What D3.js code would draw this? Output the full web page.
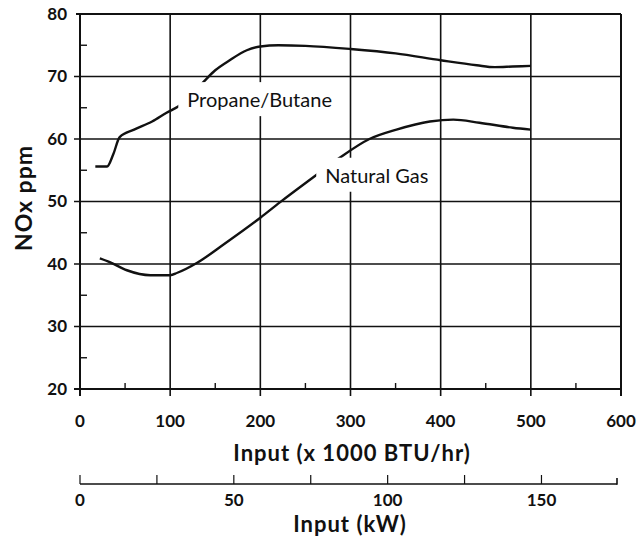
<!DOCTYPE html>
<html>
<head>
<meta charset="utf-8">
<script src="https://cdn.jsdelivr.net/npm/d3@7"></script>
<style>
  body { margin: 0; background: #fff; }
  text { font-family: Lato, "Open Sans", sans-serif; fill: #111; }
</style>
</head>
<body>
<script>
// values (x in 1000 BTU/hr, y in NOx ppm)
var propane = [[17,55.6],[30,55.6],[37,57.6],[44,60.3],[60,61.5],[80,62.8],[96,64.2],[111,65.4],
  [136,69.0],[150,71.0],[166,72.6],[185,74.2],[200,74.8],[220,75.0],[250,74.9],[300,74.4],
  [350,73.7],[400,72.6],[440,71.8],[460,71.5],[480,71.6],[500,71.7]];
var natgas = [[22,40.9],[33,40.3],[52,39.0],[78,38.2],[100,38.2],[108,38.6],[130,40.2],
  [160,43.2],[200,47.4],[222,49.9],[258,53.8],[288,57.0],[321,60.0],[351,61.5],[388,62.8],
  [414,63.1],[443,62.6],[480,61.8],[500,61.5]];
var xTicks = [0,100,200,300,400,500,600];
var xMinor = [50,150,250,350,450,550];
var yTicks = [20,30,40,50,60,70,80];
var yMinor = [25,35,45,55,65,75];
var kwTicks = [0,50,100,150];
var kwMinor = [25,75,125];
var labels = [{name:"Propane/Butane", x:119, y:65.1}, {name:"Natural Gas", x:272, y:53.0}];

var w = 644, h = 544;
var svg = d3.select("body").append("svg").attr("width", w).attr("height", h);

var x = d3.scaleLinear().domain([0,600]).range([80,621]);
var y = d3.scaleLinear().domain([20,80]).range([389,14]);
// 1 kW = 3.412 x 1000 BTU/hr
var kw = d3.scaleLinear().domain([0, 600/3.412]).range([x(0), x(600)]);

var ink = "#111";

// grid
svg.selectAll(".hg").data(yTicks.slice(1,-1)).enter().append("line")
  .attr("x1", 74).attr("x2", x(600)).attr("y1", d => y(d)).attr("y2", d => y(d))
  .attr("stroke", ink).attr("stroke-width", 1.6);
svg.selectAll(".vg").data(xTicks.slice(1,-1)).enter().append("line")
  .attr("x1", d => x(d)).attr("x2", d => x(d)).attr("y1", y(80)).attr("y2", y(20) + 7)
  .attr("stroke", ink).attr("stroke-width", 1.6);

// curves
var line = d3.line().x(d => x(d[0])).y(d => y(d[1])).curve(d3.curveMonotoneX);
[propane, natgas].forEach(function(s){
  svg.append("path").attr("d", line(s)).attr("fill", "none")
    .attr("stroke", ink).attr("stroke-width", 2.4);
});

// labels with white knock-out
var lab = svg.append("g");
labels.forEach(function(l){
  var g = lab.append("g");
  var r = g.append("rect").attr("fill", "#fff");
  var t = g.append("text").attr("x", x(l.x)).attr("y", y(l.y))
    .attr("font-size", 20).text(l.name);
  var b = t.node().getBBox();
  r.attr("x", b.x - 9).attr("y", y(l.y) - 25)
    .attr("width", b.width + 15).attr("height", 34);
});

// frame
svg.append("line").attr("x1", 76).attr("x2", x(600)).attr("y1", y(80)).attr("y2", y(80))
  .attr("stroke", ink).attr("stroke-width", 2);
svg.append("line").attr("x1", 74).attr("x2", x(600)).attr("y1", y(20)).attr("y2", y(20))
  .attr("stroke", ink).attr("stroke-width", 2);
svg.append("line").attr("x1", x(0)).attr("x2", x(0)).attr("y1", y(80)).attr("y2", y(20) + 7)
  .attr("stroke", ink).attr("stroke-width", 2);
svg.append("line").attr("x1", x(600)).attr("x2", x(600)).attr("y1", y(80)).attr("y2", y(20) + 7)
  .attr("stroke", ink).attr("stroke-width", 2);

// minor ticks
svg.selectAll(".ym").data(yMinor).enter().append("line")
  .attr("x1", x(0)).attr("x2", x(0) + 7).attr("y1", d => y(d)).attr("y2", d => y(d))
  .attr("stroke", ink).attr("stroke-width", 1.4);
svg.selectAll(".xm").data(xMinor).enter().append("line")
  .attr("x1", d => x(d)).attr("x2", d => x(d)).attr("y1", y(20)).attr("y2", y(20) - 6)
  .attr("stroke", ink).attr("stroke-width", 1.4);

// tick labels
svg.selectAll(".yl").data(yTicks).enter().append("text")
  .attr("x", 67).attr("y", d => y(d)).attr("dy", "0.35em").attr("text-anchor", "end")
  .attr("font-size", 17).attr("font-weight", "bold").text(d => d);
svg.selectAll(".xl").data(xTicks).enter().append("text")
  .attr("x", d => x(d)).attr("y", 427).attr("text-anchor", "middle")
  .attr("font-size", 17).attr("font-weight", "bold").text(d => d);

// axis titles
svg.append("text").attr("transform", "translate(32,198) rotate(-90)")
  .attr("text-anchor", "middle").attr("font-size", 23).attr("font-weight", "bold")
  .attr("letter-spacing", 1).text("NOx ppm");
svg.append("text").attr("x", 352).attr("y", 461).attr("text-anchor", "middle")
  .attr("font-size", 22).attr("font-weight", "bold").attr("letter-spacing", 1)
  .text("Input (x 1000 BTU/hr)");

// kW axis
var ky = 484;
var kEnd = x(600) - 4;
svg.append("line").attr("x1", kw(0)).attr("x2", kEnd).attr("y1", ky).attr("y2", ky)
  .attr("stroke", ink).attr("stroke-width", 1.6);
svg.selectAll(".kt").data(kwTicks.concat(kwMinor)).enter().append("line")
  .attr("x1", d => kw(d)).attr("x2", d => kw(d)).attr("y1", ky).attr("y2", ky - 9)
  .attr("stroke", ink).attr("stroke-width", 1.2);
svg.append("line").attr("x1", kEnd).attr("x2", kEnd).attr("y1", ky + 0.8).attr("y2", ky - 6)
  .attr("stroke", ink).attr("stroke-width", 1.6);
svg.selectAll(".kl").data(kwTicks).enter().append("text")
  .attr("x", d => kw(d)).attr("y", 506).attr("text-anchor", "middle")
  .attr("font-size", 17).attr("font-weight", "bold").text(d => d);
svg.append("text").attr("x", 350).attr("y", 532).attr("text-anchor", "middle")
  .attr("font-size", 22).attr("font-weight", "bold").attr("letter-spacing", 1)
  .text("Input (kW)");
</script>
</body>
</html>
